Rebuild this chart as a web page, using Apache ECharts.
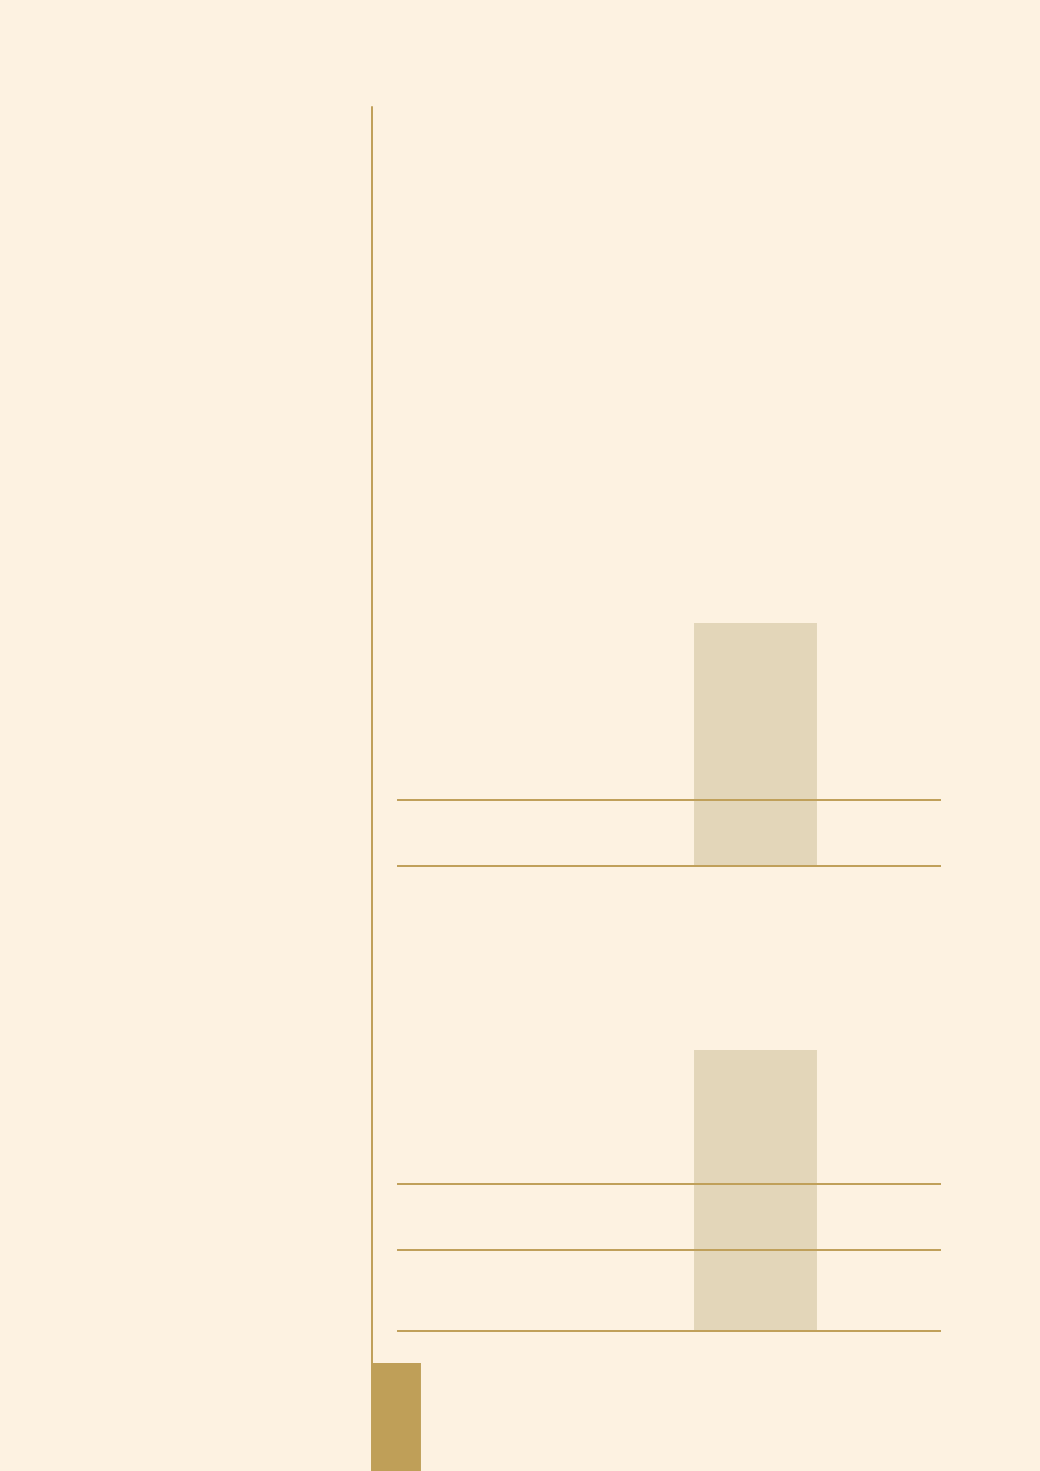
<!DOCTYPE html>
<html>
<head>
<meta charset="utf-8">
<script src="https://cdn.jsdelivr.net/npm/echarts@6/dist/echarts.min.js"></script>
<style>
  html, body { margin: 0; padding: 0; background: #FDF2E1; }
  #chart { width: 1040px; height: 1471px; }
</style>
</head>
<body>
<div id="chart"></div>
<script>
// Shaded column bands: [xStart, xEnd, yBottom, yTop]
const shadedBands = [
  [54.6, 77.2, 60.5, 84.8],
  [54.6, 77.2, 14.0, 42.1]
];
// Horizontal reference line levels
const lineLevels = [67.1, 60.5, 28.7, 22.1, 14.0];
const lineStart = 0;
const lineEnd = 100;
// Solid bar: [xStart, xEnd, yBottom, yTop]
const solidBars = [
  [-4.6, 4.4, 0, 10.8]
];

const chart = echarts.init(document.getElementById('chart'), null, { renderer: 'canvas' });

function rectItem(fill) {
  return function (params, api) {
    const p0 = api.coord([api.value(0), api.value(3)]);
    const p1 = api.coord([api.value(1), api.value(2)]);
    return {
      type: 'rect',
      shape: { x: p0[0], y: p0[1], width: p1[0] - p0[0], height: p1[1] - p0[1] },
      style: { fill: fill }
    };
  };
}

const series = [
  {
    type: 'custom',
    renderItem: rectItem('#E3D6B9'),
    data: shadedBands,
    z: 1,
    silent: true
  },
  {
    type: 'custom',
    renderItem: rectItem('#BF9F58'),
    data: solidBars,
    z: 3,
    silent: true
  }
];
lineLevels.forEach(function (v) {
  series.push({
    type: 'line',
    data: [[lineStart, v], [lineEnd, v]],
    symbol: 'none',
    lineStyle: { color: '#C0A05A', width: 2 },
    z: 2,
    silent: true
  });
});

chart.setOption({
  backgroundColor: '#FDF2E1',
  animation: false,
  grid: { left: 372, right: 99, top: 107, bottom: 0 },
  xAxis: {
    type: 'value', min: -4.6, max: 100,
    axisLine: { show: false }, axisTick: { show: false },
    axisLabel: { show: false }, splitLine: { show: false }
  },
  yAxis: {
    type: 'value', min: 0, max: 136.4,
    axisLine: { show: true, onZero: false, lineStyle: { color: '#C0A05A', width: 2 } },
    axisTick: { show: false }, axisLabel: { show: false }, splitLine: { show: false }
  },
  series: series
});
</script>
</body>
</html>
